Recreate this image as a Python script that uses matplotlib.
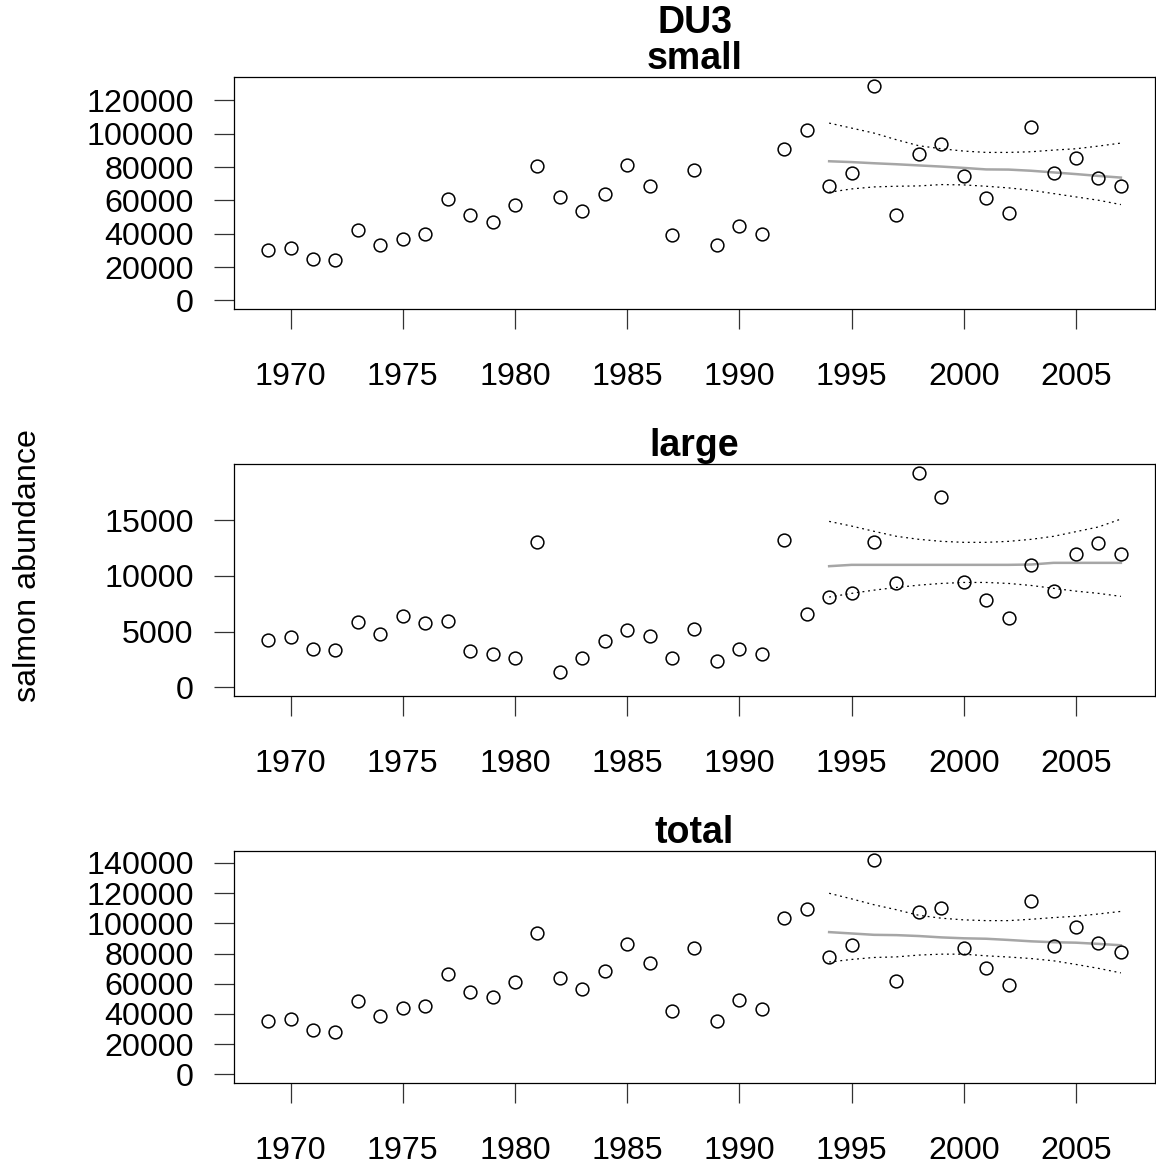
import matplotlib
matplotlib.use('Agg')
import matplotlib.pyplot as plt

plt.rcParams['font.family'] = ['Liberation Sans', 'DejaVu Sans']

years = list(range(1969, 2008))
fit_years = list(range(1994, 2008))

small = [30500, 31300, 24700, 24100, 42300, 33100, 37100, 39900, 60700, 51500,
         47300, 57500, 80400, 62300, 53900, 63900, 81200, 68900, 39100, 78000,
         33100, 44900, 39900, 90600, 102200, 68900, 76500, 128900, 51500, 88000,
         94000, 74900, 61500, 52300, 104000, 76500, 85600, 73200, 68900]
small_fit = [83500, 83000, 82300, 81700, 81000, 80300, 79500, 78600, 78500, 77800,
             76800, 75800, 74700, 73700]
small_hi = [106400, 103400, 100400, 96400, 92800, 91000, 89600, 88800, 88800, 89200,
            90200, 91000, 92600, 94400]
small_lo = [64900, 66900, 68100, 68500, 68700, 69500, 69300, 68500, 67500, 66100,
            64100, 62100, 60100, 57500]

large = [4260, 4530, 3490, 3400, 5870, 4770, 6380, 5760, 5990, 3280,
         3040, 2650, 13090, 1400, 2650, 4150, 5130, 4650, 2650, 5250,
         2410, 3490, 3010, 13200, 6620, 8110, 8470, 13090, 9360, 19280,
         17050, 9480, 7870, 6260, 10970, 8620, 11950, 12960, 11950]
large_fit = [10880, 11000, 11000, 11000, 11000, 11000, 11000, 11000, 11000, 11030,
             11180, 11180, 11180, 11180]
large_hi = [14900, 14480, 14010, 13560, 13290, 13110, 13020, 13020, 13110, 13290,
            13560, 13980, 14400, 15110]
large_lo = [8110, 8440, 8730, 8970, 9180, 9330, 9420, 9420, 9330, 9150,
            8890, 8640, 8440, 8170]

total = [35500, 36400, 29200, 28400, 48400, 38400, 43800, 45600, 66500, 54500,
         51000, 61000, 93800, 63700, 56500, 68500, 86600, 73700, 42100, 83700,
         35500, 49100, 43000, 103800, 109200, 77400, 85500, 142200, 62100, 107500,
         110100, 83900, 70200, 59300, 114700, 84800, 97500, 86800, 81100]
total_fit = [94200, 93300, 92400, 92200, 91600, 90700, 90100, 89800, 89000, 88100,
             87500, 87200, 86400, 85500]
total_hi = [119900, 116200, 112300, 109000, 105300, 103400, 102300, 101800, 101800, 102700,
            103800, 104700, 106200, 107900]
total_lo = [74400, 76100, 77400, 77800, 79000, 79600, 79600, 78500, 77700, 76700,
            75200, 72800, 70200, 67200]

panels = [
    ('small', small, small_fit, small_lo, small_hi, 20000),
    ('large', large, large_fit, large_lo, large_hi, 5000),
    ('total', total, total_fit, total_lo, total_hi, 20000),
]
x_ticks = [1970, 1975, 1980, 1985, 1990, 1995, 2000, 2005]

W, H = 1156, 1166
fig = plt.figure(figsize=(W / 100, H / 100), dpi=100)

box_tops = [77, 464, 851]
box_h = 232
left, right = 234, 1155

for (name, vals, fit, lo, hi, step), top in zip(panels, box_tops):
    ax = fig.add_axes([left / W, 1 - (top + box_h) / H, (right - left) / W, box_h / H])
    ax.plot(years, vals, 'o', ms=9.2, mfc='none', mec='black', mew=1.1, zorder=3)
    ax.plot(fit_years, fit, color='#a6a6a6', lw=1.8, zorder=2)
    ax.plot(fit_years, lo, color='black', lw=0.9, ls=(0, (1.5, 3)), zorder=2)
    ax.plot(fit_years, hi, color='black', lw=0.9, ls=(0, (1.5, 3)), zorder=2)

    span = years[-1] - years[0]
    ax.set_xlim(years[0] - 0.04 * span, years[-1] + 0.04 * span)
    vmax = max(vals)
    ax.set_ylim(-0.04 * vmax, 1.04 * vmax)

    ax.set_xticks(x_ticks)
    ax.set_yticks(list(range(0, int(vmax) + 1, step)))
    ax.tick_params(axis='both', direction='out', length=14.5, width=0.9,
                   labelsize=23.2, color='#333333')
    ax.tick_params(axis='x', pad=24)
    ax.tick_params(axis='y', pad=14.5)
    for s in ax.spines.values():
        s.set_linewidth(0.9)
    ax.set_title(name, fontsize=27, fontweight='bold', pad=3)

fig.text(0.5 + (left + right - W) / 2 / W, 1 - 33 / H, 'DU3', ha='center', va='baseline',
         fontsize=27, fontweight='bold')
fig.text(28 / W, 1 - 566 / H, 'salmon abundance', rotation=90, ha='center', va='center',
         fontsize=23.2)

fig.savefig('out.png', dpi=100)
